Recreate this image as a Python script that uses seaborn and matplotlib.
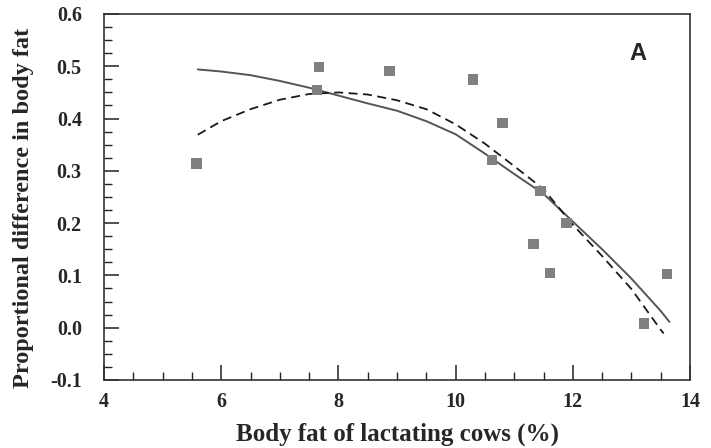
import matplotlib
matplotlib.use("Agg")
import matplotlib.pyplot as plt
from matplotlib.ticker import MultipleLocator, FormatStrFormatter
import seaborn as sns
import pandas as pd

# Observed data points (body fat %, proportional difference)
obs_x = [5.58, 7.67, 7.63, 8.87, 10.30, 10.80, 10.62, 11.45, 11.89, 11.33, 11.61, 13.61, 13.21]
obs_y = [0.314, 0.499, 0.454, 0.491, 0.475, 0.392, 0.321, 0.261, 0.200, 0.160, 0.104, 0.103, 0.008]

# Solid fitted curve
solid_x = [5.6, 6.0, 6.5, 7.0, 7.5, 8.0, 8.5, 9.0, 9.5, 10.0, 10.5, 11.0, 11.5, 12.0, 12.5, 13.0, 13.5, 13.65]
solid_y = [0.494, 0.490, 0.483, 0.472, 0.459, 0.444, 0.429, 0.415, 0.395, 0.370, 0.333, 0.294, 0.256, 0.203, 0.150, 0.094, 0.032, 0.011]

# Dashed fitted curve
dash_x = [5.6, 6.0, 6.5, 7.0, 7.5, 8.0, 8.5, 9.0, 9.5, 10.0, 10.5, 11.0, 11.5, 12.0, 12.5, 13.0, 13.5, 13.55]
dash_y = [0.369, 0.395, 0.418, 0.436, 0.447, 0.450, 0.446, 0.435, 0.418, 0.389, 0.352, 0.309, 0.265, 0.197, 0.137, 0.074, -0.004, -0.011]

x_label = "Body fat of lactating cows (%)"
y_label = "Proportional difference in body fat"
panel = "A"

sns.set_style("ticks")
plt.rcParams['font.family'] = ['Liberation Serif', 'DejaVu Serif']
plt.rcParams['axes.unicode_minus'] = False

fig = plt.figure(figsize=(7.11, 4.48), dpi=100)
ax = fig.add_axes([0.1463, 0.1518, 0.9705 - 0.1463, 0.96875 - 0.1518])

obs = pd.DataFrame({"x": obs_x, "y": obs_y})
sol = pd.DataFrame({"x": solid_x, "y": solid_y})
dsh = pd.DataFrame({"x": dash_x, "y": dash_y})

sns.lineplot(data=sol, x="x", y="y", ax=ax, color="#555555", linewidth=1.4,
             sort=False, estimator=None)
sns.lineplot(data=dsh, x="x", y="y", ax=ax, color="#1a1a1a", linewidth=1.3,
             linestyle=(0, (5, 3)), sort=False, estimator=None)
sns.scatterplot(data=obs, x="x", y="y", ax=ax, marker="s", s=55, color="#808080",
                edgecolor="none", zorder=3)

ax.set_xlim(4, 14)
ax.set_ylim(-0.1, 0.6)
ax.xaxis.set_major_locator(MultipleLocator(2))
ax.xaxis.set_minor_locator(MultipleLocator(0.5))
ax.yaxis.set_major_locator(MultipleLocator(0.1))
ax.yaxis.set_minor_locator(MultipleLocator(0.025))
ax.yaxis.set_major_formatter(FormatStrFormatter("%.1f"))
ax.xaxis.set_major_formatter(FormatStrFormatter("%d"))

ax.tick_params(axis="both", which="major", direction="in", length=11, width=1.1,
               color="#222222", labelsize=14.5)
ax.tick_params(axis="y", which="major", pad=16)
ax.tick_params(axis="x", which="major", pad=9)
ax.tick_params(axis="both", which="minor", direction="in", length=5.5, width=1.0,
               color="#222222")
ax.tick_params(top=False, right=False, which="both")
for lab in ax.get_xticklabels() + ax.get_yticklabels():
    lab.set_fontweight("bold")

for sp in ax.spines.values():
    sp.set_visible(True)
    sp.set_linewidth(1.2)
    sp.set_color("#333333")

ax.set_xlabel(x_label, fontsize=18, fontweight="bold", labelpad=7)
ax.set_ylabel(y_label, fontsize=17.5, fontweight="bold", labelpad=9)
ax.yaxis.set_label_coords(-0.119, 0.47)

ax.text(0.911, 0.893, panel, transform=ax.transAxes, fontsize=17, fontweight="bold",
        family=["Liberation Sans", "DejaVu Sans"], ha="center", va="center")

fig.savefig("out.png", dpi=100)
